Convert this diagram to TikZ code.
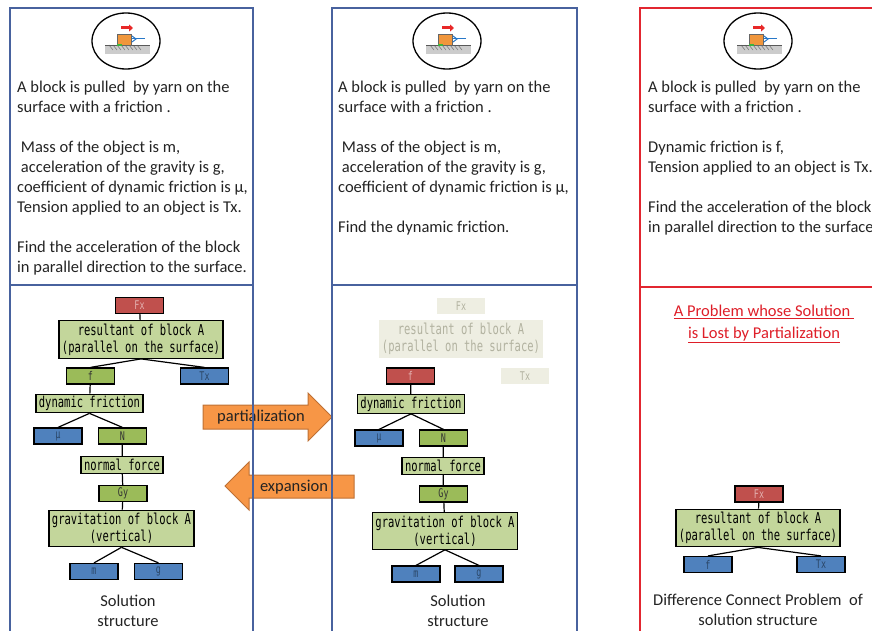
\documentclass[tikz,border=0pt]{standalone}
\usepackage{fontspec}
\setmainfont{Carlito}
\newfontfamily\treefont[FakeStretch=0.7]{DejaVu Sans Mono}
\usetikzlibrary{positioning, calc, arrows.meta}
\definecolor{panelblue}{RGB}{72,98,158}
\definecolor{panelred}{RGB}{226,38,48}
\definecolor{varred}{RGB}{192,80,77}
\definecolor{varblue}{RGB}{79,129,189}
\definecolor{vargreen}{RGB}{155,187,89}
\definecolor{conceptgreen}{RGB}{195,214,155}
\definecolor{fadefill}{RGB}{238,238,226}
\definecolor{fadetext}{RGB}{178,178,160}
\definecolor{arroworange}{RGB}{247,150,70}
\definecolor{arrowedge}{RGB}{190,112,52}
\definecolor{titlered}{RGB}{222,30,40}
\definecolor{textgray}{RGB}{35,35,35}
\definecolor{iconorange}{RGB}{240,150,60}
\definecolor{iconred}{RGB}{232,40,40}
\definecolor{iconblue}{RGB}{40,120,200}
\definecolor{icongreen}{RGB}{60,180,60}
\tikzstyle{Edge} = [
%tree connector:
line width=1.2pt, black
]
\newcommand{\blockicon}[2]{%
	\begin{scope}[shift={(#1,#2)}]
		\fill[gray!40] (-21,4) rectangle (24,13);
		\foreach \hx in {-17,-13,...,11} \draw[black!55, line width=0.5pt] (\hx,4) -- (\hx+4,9);
		\draw[black!65, line width=0.8pt] (-21,4) -- (24,4);
		\draw[fill=iconorange, draw=black!60, line width=0.6pt] (-9,-7) rectangle (5,4);
		\draw[icongreen, line width=1.5pt] (-9,4) -- (-4,4);
		\draw[iconred, line width=3pt, -{Triangle[length=4pt, width=7pt]}] (-5,-13) -- (7,-13);
		\draw[iconblue, line width=1pt] (6,-2) -- (19,-2);
		\draw[iconblue, line width=1pt] (6,-5) -- (10,-2) -- (6,1);
		\draw[line width=1.3pt] (0,0) ellipse [x radius=34, y radius=28];
	\end{scope}}
\begin{document}
\begin{tikzpicture}[x=1pt, y=-1pt,
			panelbox/.style = {draw=panelblue, line width=1.2pt},
			redbox/.style = {draw=panelred, line width=1.2pt},
			probtext/.style = {anchor=north west, align=left, inner sep=0pt, text=textgray, font=\fontsize{16.5}{20}\selectfont},
			caption/.style = {align=center, inner sep=0pt, text=textgray, font=\fontsize{16.5}{20}\selectfont},
			concept/.style = {rectangle, draw, line width=1.2pt, fill=conceptgreen, align=center, inner xsep=3pt, inner ysep=2pt, minimum height=17pt, font=\treefont\fontsize{15}{17}\selectfont},
			twoline/.style = {concept, inner ysep=3pt},
			var/.style = {rectangle, draw, line width=1.2pt, minimum width=48pt, minimum height=16pt, inner sep=0pt, font=\treefont\fontsize{12}{13}\selectfont},
			givenvar/.style = {var, fill=varblue, text=black!45!varblue},
			goalvar/.style = {var, fill=varred, text=white!55!varred},
			linkvar/.style = {var, fill=vargreen, text=black!80},
			fadedvar/.style = {var, draw=none, fill=fadefill, text=fadetext},
			fadedconcept/.style = {twoline, draw=none, fill=fadefill, text=fadetext},
			bigarrow/.style = {draw=arrowedge, line width=1pt, fill=arroworange},
			arrowlabel/.style = {inner sep=0pt, text=textgray, font=\fontsize{16.5}{20}\selectfont},
		]
		\useasboundingbox (0,0) rectangle (872,631);

		% orange arrows between the panels
		\draw[bigarrow] (203,405) -- (308,405) -- (308,393) -- (332,417) -- (308,441) -- (308,429) -- (203,429) -- cycle;
		\node[arrowlabel] (partial) at (261,417) {partialization};
		\draw[bigarrow] (354,475) -- (249,475) -- (249,462) -- (225,486) -- (249,510) -- (249,498) -- (354,498) -- cycle;
		\node[arrowlabel] (expand) at (294,487) {expansion};

		% panels
		\draw[panelbox] (10,8) rectangle (253,640);
		\draw[panelbox] (10,285) -- (253,285);
		\draw[panelbox] (332,8) rectangle (577,640);
		\draw[panelbox] (332,285) -- (577,285);
		\draw[redbox] (640,8) rectangle (880,640);
		\draw[redbox] (640,287) -- (880,287);

		\blockicon{126}{41}
		\blockicon{447}{41}
		\blockicon{758}{41}

		\node[probtext] (probL) at (17,81) {A block is pulled~ by yarn on the\\surface with a friction .\\[20pt]~Mass of the object is m,\\~acceleration of the gravity is g,\\coefficient of dynamic friction is μ,\\Tension applied to an object is Tx.\\[20pt]Find the acceleration of the block\\in parallel direction to the surface.};
		\node[probtext] (probM) at (338,81) {A block is pulled~ by yarn on the\\surface with a friction .\\[20pt]~Mass of the object is m,\\~acceleration of the gravity is g,\\coefficient of dynamic friction is μ,\\[20pt]Find the dynamic friction.};
		\node[probtext] (probR) at (648,81) {A block is pulled~ by yarn on the\\surface with a friction .\\[20pt]Dynamic friction is f,\\Tension applied to an object is Tx.\\[20pt]Find the acceleration of the block\\in parallel direction to the surface.};

		% left solution structure
		\node[goalvar] (fxL) at (139.5,305.5) {Fx};
		\node[twoline] (resL) at (141,339.5) {resultant of block A\\(parallel on the surface)};
		\node[linkvar] (fL) at (90.5,376) {f};
		\node[givenvar] (txL) at (204.5,376) {Tx};
		\node[concept] (dynL) at (89.5,403.5) {dynamic friction};
		\node[givenvar] (muL) at (58,436) {μ};
		\node[linkvar] (nL) at (122.5,436) {N};
		\node[concept] (normL) at (122,465) {normal force};
		\node[linkvar] (gyL) at (123,493.5) {Gy};
		\node[twoline] (gravL) at (121.5,528.5) {gravitation of block A\\(vertical)};
		\node[givenvar] (mL) at (94,571.5) {m};
		\node[givenvar] (gL) at (158.5,571.5) {g};
		\node[caption] (solL) at (128,611) {Solution\\structure};

		\draw[Edge](fxL)--(resL);
		\draw[Edge](resL.south)--(fL.north);
		\draw[Edge](resL.south)--(txL.north);
		\draw[Edge](fL)--(dynL);
		\draw[Edge](dynL.south)--(muL.north);
		\draw[Edge](dynL.south)--(nL.north);
		\draw[Edge](nL)--(normL);
		\draw[Edge](normL)--(gyL);
		\draw[Edge](gyL)--(gravL);
		\draw[Edge](gravL.south)--(mL.north);
		\draw[Edge](gravL.south)--(gL.north);

		% middle solution structure
		\node[fadedvar] (fxM) at (461,306) {Fx};
		\node[fadedconcept] (resM) at (461,339) {resultant of block A\\(parallel on the surface)};
		\node[fadedvar] (txM) at (525,376) {Tx};
		\node[goalvar] (fM) at (410.5,376) {f};
		\node[concept] (dynM) at (411,404) {dynamic friction};
		\node[givenvar] (muM) at (379,438) {μ};
		\node[linkvar] (nM) at (443.5,438) {N};
		\node[concept] (normM) at (443,466) {normal force};
		\node[linkvar] (gyM) at (443.5,494) {Gy};
		\node[twoline] (gravM) at (445,531) {gravitation of block A\\(vertical)};
		\node[givenvar] (mM) at (416,574) {m};
		\node[givenvar] (gM) at (479,574) {g};
		\node[caption] (solM) at (458,611) {Solution\\structure};

		\draw[Edge](fM)--(dynM);
		\draw[Edge](dynM.south)--(muM.north);
		\draw[Edge](dynM.south)--(nM.north);
		\draw[Edge](nM)--(normM);
		\draw[Edge](normM)--(gyM);
		\draw[Edge](gyM)--(gravM);
		\draw[Edge](gravM.south)--(mM.north);
		\draw[Edge](gravM.south)--(gM.north);

		% right panel
		\node[caption, text=titlered, font=\fontsize{16.5}{22}\selectfont] (lostR) at (764,324) {\underline{A Problem whose Solution~}\\\underline{is Lost by Partialization}};
		\node[goalvar] (fxR) at (759,494) {Fx};
		\node[twoline] (resR) at (758,528) {resultant of block A\\(parallel on the surface)};
		\node[givenvar] (fR) at (708,564.5) {f};
		\node[givenvar] (txR) at (821,564.5) {Tx};
		\node[caption] (diffR) at (758,610) {Difference Connect Problem~ of\\solution structure};

		\draw[Edge](fxR)--(resR);
		\draw[Edge](resR.south)--(fR.north);
		\draw[Edge](resR.south)--(txR.north);

	\end{tikzpicture}
\end{document}
